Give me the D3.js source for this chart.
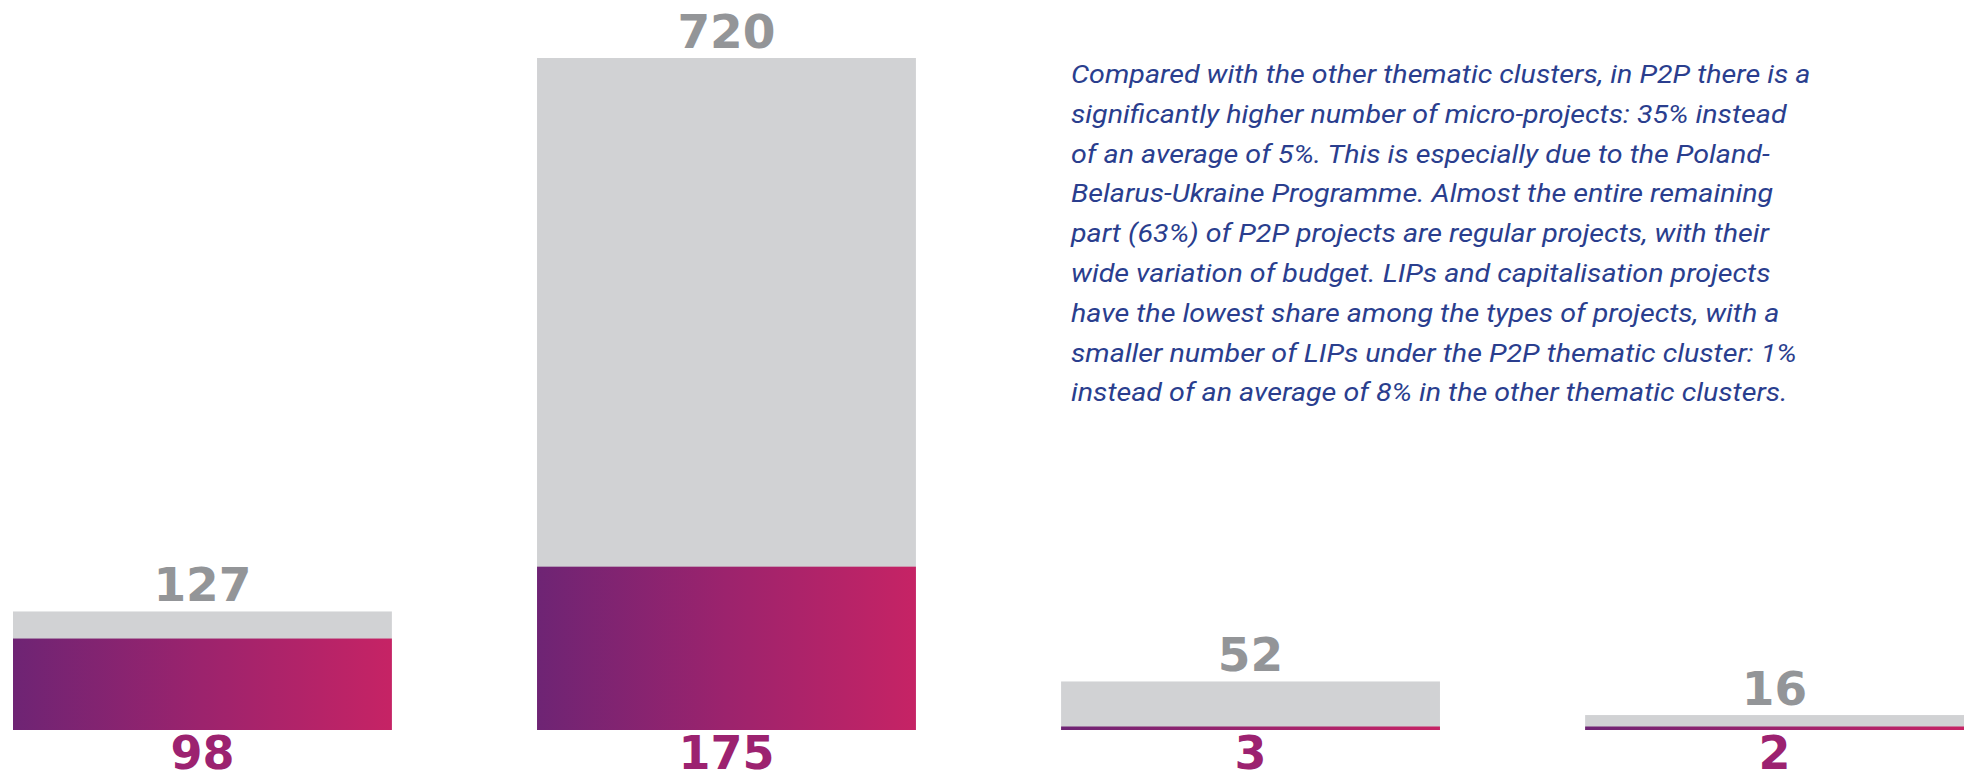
<!DOCTYPE html>
<html>
<head>
<meta charset="utf-8">
<script src="https://cdn.jsdelivr.net/npm/d3@7"></script>
<style>
  html, body { margin: 0; padding: 0; background: #ffffff; }
  svg { display: block; }
</style>
</head>
<body>
<svg id="chart" width="1973" height="779"></svg>
<script>
// ---- data ----
const categories = ["Micro-projects", "Regular projects", "LIPs", "Capitalisation projects"];
const totalValues = [127, 720, 52, 16];   // grey bars (all thematic clusters)
const p2pValues   = [98, 175, 3, 2];      // gradient bars (P2P cluster)
const noteLines = [
  "Compared with the other thematic clusters, in P2P there is a",
  "significantly higher number of micro-projects: 35% instead",
  "of an average of 5%. This is especially due to the Poland-",
  "Belarus-Ukraine Programme. Almost the entire remaining",
  "part (63%) of P2P projects are regular projects, with their",
  "wide variation of budget. LIPs and capitalisation projects",
  "have the lowest share among the types of projects, with a",
  "smaller number of LIPs under the P2P thematic cluster: 1%",
  "instead of an average of 8% in the other thematic clusters."
];

// ---- layout ----
const svg = d3.select("#chart");
const baseY = 730, topY = 58;

const x = d3.scaleBand()
  .domain(categories)
  .range([13, 1964])
  .paddingInner(0.277)
  .paddingOuter(0);

const y = d3.scaleLinear()
  .domain([0, d3.max(totalValues)])
  .range([baseY, topY]);

const defs = svg.append("defs");
const grad = defs.append("linearGradient")
  .attr("id", "pinkGrad")
  .attr("x1", "0%").attr("x2", "100%")
  .attr("y1", "0%").attr("y2", "0%");
grad.append("stop").attr("offset", "0%").attr("stop-color", "#6e2474");
grad.append("stop").attr("offset", "50%").attr("stop-color", "#9c236d");
grad.append("stop").attr("offset", "100%").attr("stop-color", "#c62365");

const rows = categories.map((c, i) => ({ c, total: totalValues[i], p2p: p2pValues[i] }));

// grey total bars
svg.append("g").selectAll("rect")
  .data(rows)
  .join("rect")
  .attr("x", d => x(d.c))
  .attr("width", x.bandwidth())
  .attr("y", d => y(d.total))
  .attr("height", d => baseY - y(d.total))
  .attr("fill", "#d1d2d4");

// gradient P2P bars
const minH = 3.5;
svg.append("g").selectAll("rect")
  .data(rows)
  .join("rect")
  .attr("x", d => x(d.c))
  .attr("width", x.bandwidth())
  .attr("y", d => baseY - Math.max(baseY - y(d.p2p), minH))
  .attr("height", d => Math.max(baseY - y(d.p2p), minH))
  .attr("fill", "url(#pinkGrad)");

const numFont = "'DejaVu Sans', sans-serif";

// total labels
svg.append("g").selectAll("text")
  .data(rows)
  .join("text")
  .attr("x", d => x(d.c) + x.bandwidth() / 2)
  .attr("y", d => y(d.total) - 10.5)
  .attr("text-anchor", "middle")
  .attr("font-family", numFont)
  .attr("font-weight", "bold")
  .attr("font-size", 47)
  .attr("fill", "#939598")
  .text(d => d.total);

// P2P labels
svg.append("g").selectAll("text")
  .data(rows)
  .join("text")
  .attr("x", d => x(d.c) + x.bandwidth() / 2)
  .attr("y", baseY + 39)
  .attr("text-anchor", "middle")
  .attr("font-family", numFont)
  .attr("font-weight", "bold")
  .attr("font-size", 46)
  .attr("fill", "#9c2270")
  .text(d => d.p2p);

// note paragraph
const noteX = 1071, noteY = 83, lineGap = 39.8, targetW = 740;
const note = svg.append("g").attr("class", "note");
note.selectAll("text")
  .data(noteLines)
  .join("text")
  .attr("x", 0)
  .attr("y", (d, i) => i * lineGap)
  .attr("font-family", "Roboto, 'Open Sans', sans-serif")
  .attr("font-style", "italic")
  .attr("font-size", 25)
  .attr("fill", "#2a3e8e")
  .text(d => d);
const firstW = note.select("text").node().getComputedTextLength();
const sx = firstW > 0 ? targetW / firstW : 1;
note.attr("transform", `translate(${noteX},${noteY}) scale(${sx},1)`);
</script>
</body>
</html>
